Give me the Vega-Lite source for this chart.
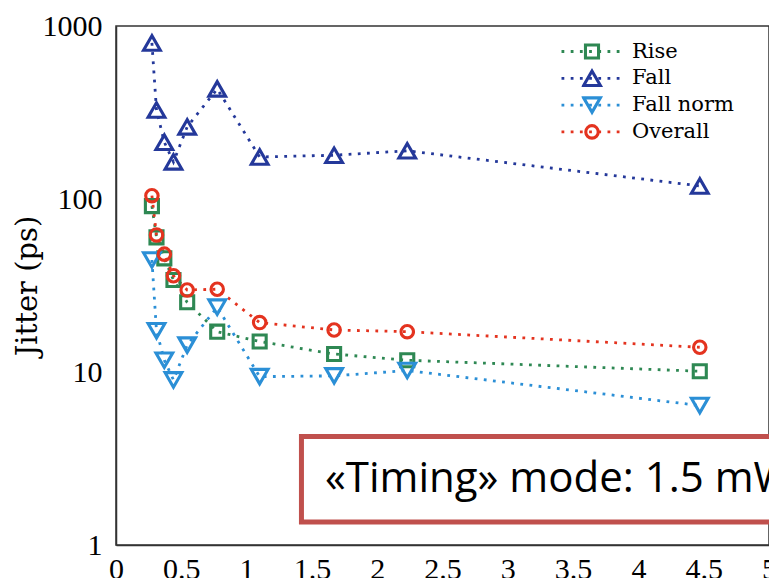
{
  "$schema": "https://vega.github.io/schema/vega-lite/v6.json",
  "width": 653,
  "height": 519,
  "autosize": {"type": "none"},
  "padding": {"left": 116, "top": 26, "right": 0, "bottom": 33},
  "background": "white",
  "config": {"view": {"stroke": "#333", "strokeWidth": 1.5}, "axis": {"grid": false}},
  "data": {"values": [
    {"series": "Rise", "x": 0.275, "y": 91},
    {"series": "Rise", "x": 0.31, "y": 60},
    {"series": "Rise", "x": 0.37, "y": 45.4},
    {"series": "Rise", "x": 0.44, "y": 34},
    {"series": "Rise", "x": 0.545, "y": 25.3},
    {"series": "Rise", "x": 0.775, "y": 17.1},
    {"series": "Rise", "x": 1.1, "y": 15.0},
    {"series": "Rise", "x": 1.67, "y": 12.7},
    {"series": "Rise", "x": 2.23, "y": 11.7},
    {"series": "Rise", "x": 4.47, "y": 10.1},
    {"series": "Fall", "x": 0.275, "y": 798},
    {"series": "Fall", "x": 0.31, "y": 327},
    {"series": "Fall", "x": 0.37, "y": 213},
    {"series": "Fall", "x": 0.44, "y": 164},
    {"series": "Fall", "x": 0.545, "y": 261},
    {"series": "Fall", "x": 0.775, "y": 433},
    {"series": "Fall", "x": 1.1, "y": 175},
    {"series": "Fall", "x": 1.67, "y": 179},
    {"series": "Fall", "x": 2.23, "y": 190},
    {"series": "Fall", "x": 4.47, "y": 119},
    {"series": "Fall norm", "x": 0.275, "y": 44.4},
    {"series": "Fall norm", "x": 0.31, "y": 17.3},
    {"series": "Fall norm", "x": 0.37, "y": 11.7},
    {"series": "Fall norm", "x": 0.44, "y": 9.0},
    {"series": "Fall norm", "x": 0.545, "y": 14.3},
    {"series": "Fall norm", "x": 0.775, "y": 23.7},
    {"series": "Fall norm", "x": 1.1, "y": 9.4},
    {"series": "Fall norm", "x": 1.67, "y": 9.5},
    {"series": "Fall norm", "x": 2.23, "y": 10.2},
    {"series": "Fall norm", "x": 4.47, "y": 6.4},
    {"series": "Overall", "x": 0.275, "y": 104.5},
    {"series": "Overall", "x": 0.31, "y": 62},
    {"series": "Overall", "x": 0.37, "y": 48},
    {"series": "Overall", "x": 0.44, "y": 36},
    {"series": "Overall", "x": 0.545, "y": 29.8},
    {"series": "Overall", "x": 0.775, "y": 30.1},
    {"series": "Overall", "x": 1.1, "y": 19.3},
    {"series": "Overall", "x": 1.67, "y": 17.5},
    {"series": "Overall", "x": 2.23, "y": 17.1},
    {"series": "Overall", "x": 4.47, "y": 13.9}
  ]},
  "layer": [
    {
      "mark": {"type": "line", "strokeDash": [2.8, 6.4], "strokeWidth": 2.8, "strokeCap": "butt"},
      "encoding": {
        "x": {"field": "x", "type": "quantitative",
          "scale": {"domain": [0, 5], "nice": false, "zero": false},
          "axis": {"orient": "bottom", "values": [0, 0.5, 1, 1.5, 2, 2.5, 3, 3.5, 4, 4.5, 5],
            "labelExpr": "datum.value + ''", "title": null, "grid": false,
            "domain": true, "domainColor": "#333", "domainWidth": 1.5,
            "ticks": true, "tickSize": 0, "tickColor": "#333", "tickWidth": 1.3,
            "labelFont": "Liberation Serif", "labelFontSize": 30, "labelColor": "black",
            "labelPadding": 9, "labelFlush": false, "labelOverlap": false, "labelBound": false,
            "encode": {"ticks": {"update": {"y2": {"value": -8}}}}}},
        "y": {"field": "y", "type": "quantitative",
          "scale": {"type": "log", "domain": [1, 1000], "nice": false},
          "axis": {"orient": "left",
            "values": [1,2,3,4,5,6,7,8,9,10,20,30,40,50,60,70,80,90,100,200,300,400,500,600,700,800,900,1000],
            "labelExpr": "indexof([1,10,100,1000], datum.value) >= 0 ? datum.value + '' : ''",
            "title": "Jitter (ps)", "titleFont": "DejaVu Serif", "titleFontSize": 29,
            "titleFontWeight": "normal", "titleColor": "black",
            "titleX": -74, "titleY": 259.5, "titleAngle": -90, "titleAlign": "center", "titleBaseline": "bottom",
            "grid": false, "domain": true, "domainColor": "#333", "domainWidth": 1.5,
            "ticks": true, "tickSize": 0, "tickColor": "#333", "tickWidth": 1.3,
            "labelFont": "Liberation Serif", "labelFontSize": 30, "labelColor": "black",
            "labelPadding": 14, "labelFlush": false, "labelOverlap": false, "labelBound": false,
            "encode": {"ticks": {"update": {"x2": {"signal": "indexof([1,10,100,1000], datum.value) >= 0 ? 8 : 5"}}}}}},
        "color": {"field": "series", "type": "nominal",
          "sort": ["Rise", "Fall", "Fall norm", "Overall"],
          "scale": {"range": ["#2e8853", "#24389a", "#2b8fd6", "#e4331f"]},
          "legend": {"orient": "none", "legendX": 444, "legendY": 12.5, "title": null,
            "clipHeight": 26, "rowPadding": 0.8, "padding": 0,
            "symbolType": "stroke", "symbolSize": 3600, "symbolDash": [2.8, 6.4], "symbolStrokeWidth": 2.8,
            "labelOpacity": 0, "labelFontSize": 21, "labelFont": "DejaVu Serif"}}
      }
    },
    {
      "mark": {"type": "point", "filled": false, "strokeWidth": 3.1, "opacity": 1},
      "encoding": {
        "x": {"field": "x", "type": "quantitative", "axis": null},
        "y": {"field": "y", "type": "quantitative", "axis": null},
        "stroke": {"field": "series", "type": "nominal",
          "scale": {"domain": ["Rise", "Fall", "Fall norm", "Overall"], "range": ["#2e8853", "#24389a", "#2b8fd6", "#e4331f"]},
          "legend": {"orient": "none", "legendX": 465.5, "legendY": 12.5, "title": null,
            "clipHeight": 26, "rowPadding": 0.8, "padding": 0,
            "labelFont": "DejaVu Serif", "labelFontSize": 21, "labelColor": "black", "labelOffset": 29.5,
            "symbolStrokeWidth": 3.1}},
        "shape": {"field": "series", "type": "nominal",
          "scale": {"domain": ["Rise", "Fall", "Fall norm", "Overall"], "range": ["square", "triangle-up", "triangle-down", "circle"]}},
        "size": {"field": "series", "type": "nominal",
          "scale": {"type": "ordinal", "domain": ["Rise", "Fall", "Fall norm", "Overall"], "range": [170, 280, 280, 155]}}
      }
    },
    {
      "data": {"values": [{"x1": 1.42, "x2": 5.6, "y1": 1.36, "y2": 4.24}]},
      "mark": {"type": "rect", "fill": "white", "stroke": "#c0504d", "strokeWidth": 5},
      "encoding": {
        "x": {"field": "x1", "type": "quantitative",
          "axis": {"orient": "top", "values": [0, 0.5, 1, 1.5, 2, 2.5, 3, 3.5, 4, 4.5, 5],
            "labels": false, "title": null, "domain": false, "grid": false,
            "ticks": true, "tickSize": 0, "tickColor": "#333", "tickWidth": 1.3,
            "encode": {"ticks": {"update": {"y2": {"value": 8}}}}}},
        "x2": {"field": "x2"},
        "y": {"field": "y1", "type": "quantitative",
          "axis": {"orient": "right",
            "values": [1,2,3,4,5,6,7,8,9,10,20,30,40,50,60,70,80,90,100,200,300,400,500,600,700,800,900,1000],
            "labels": false, "title": null, "domain": false, "grid": false,
            "ticks": true, "tickSize": 0, "tickColor": "#333", "tickWidth": 1.3,
            "encode": {"ticks": {"update": {"x2": {"signal": "indexof([1,10,100,1000], datum.value) >= 0 ? -8 : -5"}}}}}},
        "y2": {"field": "y2"}
      }
    },
    {
      "data": {"values": [{"x": 1.6, "y": 2.03, "label": "«Timing» mode: 1.5 mW"}]},
      "mark": {"type": "text", "font": "Open Sans", "fontSize": 42, "align": "left", "baseline": "alphabetic", "color": "black"},
      "encoding": {
        "x": {"field": "x", "type": "quantitative", "axis": null},
        "y": {"field": "y", "type": "quantitative", "axis": null},
        "text": {"field": "label"}
      }
    }
  ]
}
